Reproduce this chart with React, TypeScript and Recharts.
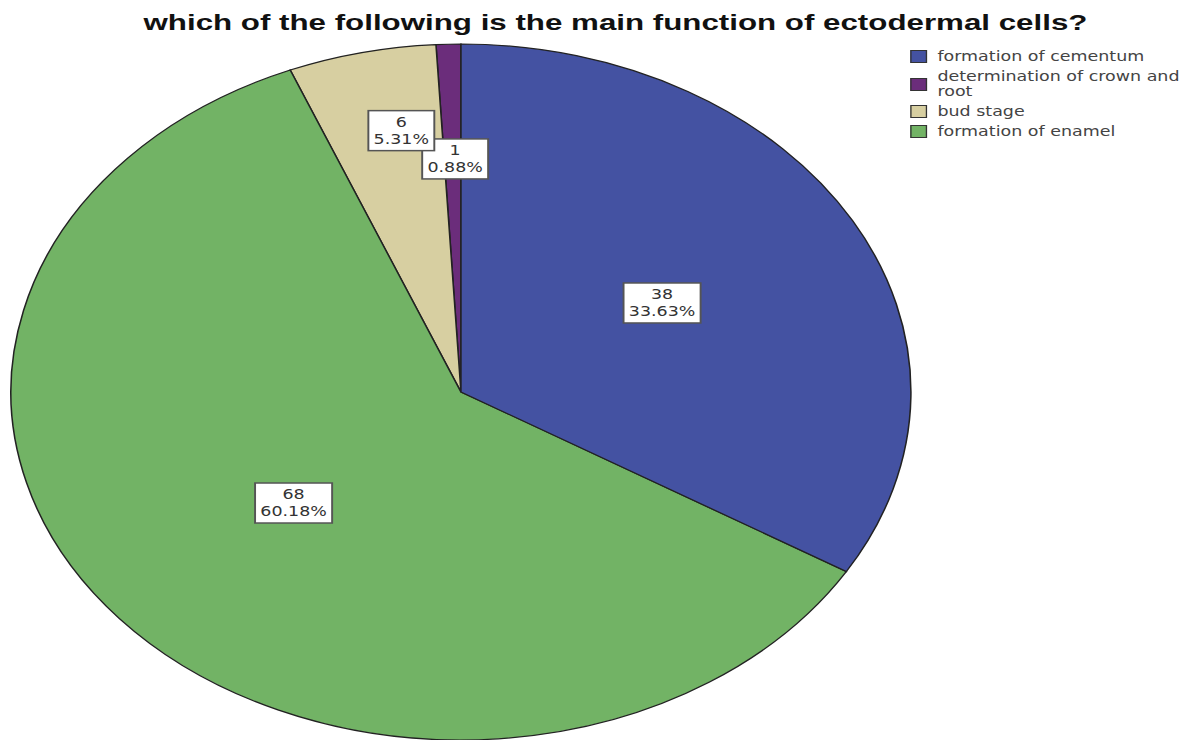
import { PieChart, Pie, Cell } from "recharts";

// slices run counter-clockwise from 12 o'clock
const categories = [
  "determination of crown and root",
  "bud stage",
  "formation of enamel",
  "formation of cementum",
];
const counts = [1, 6, 68, 38];
const colors = ["#6B2D7B", "#D7CFA1", "#72B365", "#4452A2"];
const legendOrder = [
  "formation of cementum",
  "determination of crown and root",
  "bud stage",
  "formation of enamel",
];
const title = "which of the following is the main function of ectodermal cells?";

// the reference is stretched horizontally, so draw narrow and scale the whole thing
const SX = 1.293;
const W = 928;
const H = 740;
const FONT = "'DejaVu Sans', Verdana, sans-serif";

const data = categories.map((name, i) => ({ name, value: counts[i] }));

// radial position of each label (fraction of radius) and a small x nudge
const labelPos = [
  { r: 0.67, dx: 2 },
  { r: 0.77, dx: 13 },
  { r: 0.49, dx: 0 },
  { r: 0.52, dx: -2 },
];

const RAD = Math.PI / 180;

function renderLabel(props: any) {
  const { cx, cy, midAngle, outerRadius, index, value, percent } = props;
  const p = labelPos[index];
  const x = cx + outerRadius * p.r * Math.cos(-midAngle * RAD) + p.dx;
  const y = cy + outerRadius * p.r * Math.sin(-midAngle * RAD);
  const pct = `${(percent * 100).toFixed(2)}%`;
  const w = pct.length * 8.6 + 8;
  const h = 40;
  return (
    <g>
      <rect x={x - w / 2} y={y - h / 2} width={w} height={h} fill="#fff" stroke="#555" strokeWidth={1.5} />
      <text x={x} y={y - 8} textAnchor="middle" dominantBaseline="central" fontFamily={FONT} fontSize={13.5} fill="#333">
        {value}
      </text>
      <text x={x} y={y + 9} textAnchor="middle" dominantBaseline="central" fontFamily={FONT} fontSize={13.5} fill="#333">
        {pct}
      </text>
    </g>
  );
}

function LegendBox() {
  return (
    <div
      style={{
        position: "absolute",
        left: 704,
        top: 49,
        width: 222,
        fontFamily: FONT,
        fontSize: 13.5,
        color: "#444",
        lineHeight: "15px",
      }}
    >
      {legendOrder.map((name) => {
        const c = colors[categories.indexOf(name)];
        return (
          <div key={name} style={{ display: "flex", alignItems: "center", marginBottom: 5 }}>
            <span
              style={{
                width: 11,
                height: 11,
                background: c,
                border: "1px solid #333",
                marginRight: 8,
                flexShrink: 0,
              }}
            />
            <span style={{ width: 192 }}>{name}</span>
          </div>
        );
      })}
    </div>
  );
}

export default function App() {
  return (
    <div
      style={{
        position: "absolute",
        left: 0,
        top: 0,
        width: W,
        height: H,
        background: "#fff",
        transform: `scaleX(${SX})`,
        transformOrigin: "0 0",
      }}
    >
      <svg width={W} height={40} style={{ position: "absolute", left: 0, top: 0 }}>
        <text
          x={111}
          y={30}
          textLength={730}
          lengthAdjust="spacingAndGlyphs"
          fontFamily="'Liberation Sans', Arial, sans-serif"
          fontWeight="bold"
          fontSize={22}
          fill="#111"
        >
          {title}
        </text>
      </svg>
      <PieChart width={W} height={H} margin={{ top: 0, right: 0, bottom: 0, left: 0 }}>
        <Pie
          data={data}
          dataKey="value"
          nameKey="name"
          cx={356.5}
          cy={392}
          outerRadius={348}
          startAngle={90}
          endAngle={450}
          stroke="#222"
          strokeWidth={1.2}
          label={renderLabel}
          labelLine={false}
          isAnimationActive={false}
        >
          {data.map((d, i) => (
            <Cell key={d.name} fill={colors[i]} />
          ))}
        </Pie>
      </PieChart>
      <LegendBox />
    </div>
  );
}
